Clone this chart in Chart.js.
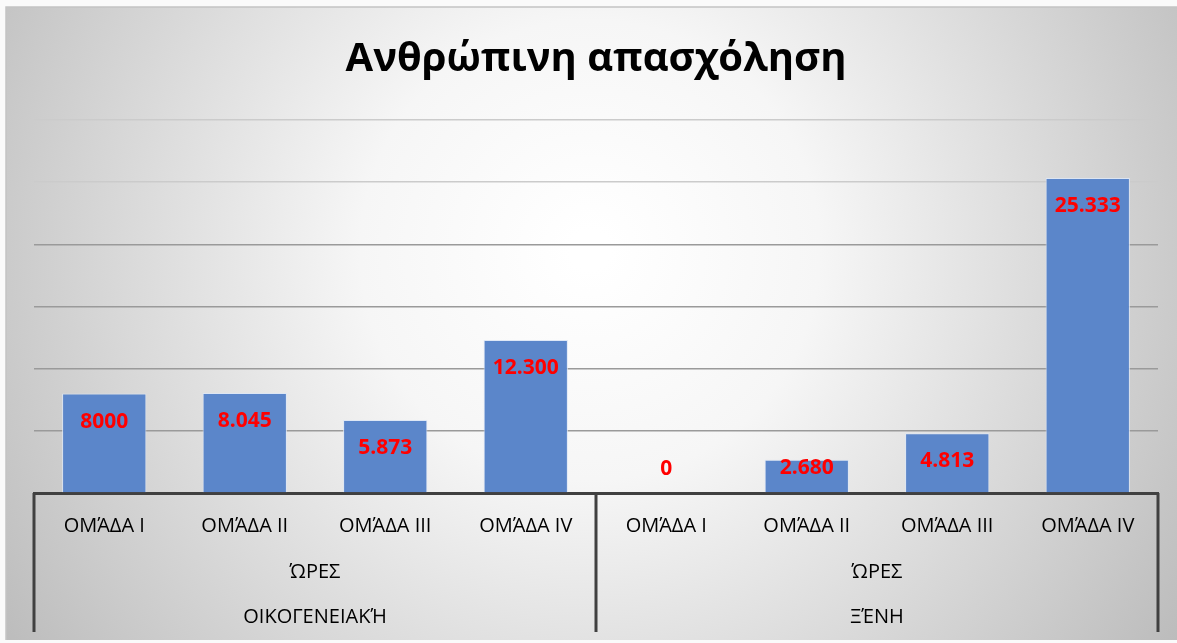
<!DOCTYPE html>
<html>
<head>
<meta charset="utf-8">
<script src="https://cdn.jsdelivr.net/npm/chart.js@4.4.1/dist/chart.umd.min.js"></script>
<style>
  html, body { margin: 0; padding: 0; background: #fff; }
  #wrap { width: 1177px; height: 643px; }
</style>
</head>
<body>
<div id="wrap"><canvas id="chart" width="1177" height="643"></canvas></div>
<script>
// dedomena
const categories = ['ΟΜΆΔΑ I', 'ΟΜΆΔΑ II', 'ΟΜΆΔΑ III', 'ΟΜΆΔΑ IV', 'ΟΜΆΔΑ I', 'ΟΜΆΔΑ II', 'ΟΜΆΔΑ III', 'ΟΜΆΔΑ IV'];
const hours = [8000, 8045, 5873, 12300, 0, 2680, 4813, 25333];
const valueLabels = ['8000', '8.045', '5.873', '12.300', '0', '2.680', '4.813', '25.333'];
const unitGroups = ['ΏΡΕΣ', 'ΏΡΕΣ'];
const laborGroups = ['ΟΙΚΟΓΕΝΕΙΑΚΉ', 'ΞΈΝΗ'];
const groupSize = 4;

const FONT = '"Open Sans", sans-serif';

// fonto me gradient kai plaisio
const backgroundPlugin = {
    id: 'bg',
    beforeDraw(chart) {
        const ctx = chart.ctx;
        const w = chart.width, h = chart.height;
        ctx.save();
        ctx.fillStyle = '#fafafa';
        ctx.fillRect(0, 0, w, h);
        const g = ctx.createRadialGradient(590, 250, 20, 590, 250, 720);
        g.addColorStop(0, '#ffffff');
        g.addColorStop(0.3, '#f6f6f6');
        g.addColorStop(1, '#bababa');
        ctx.fillStyle = g;
        ctx.fillRect(6, 7, w - 6, h - 10);
        ctx.strokeStyle = '#c4c4c4';
        ctx.lineWidth = 1.5;
        ctx.beginPath();
        ctx.moveTo(6, h - 3);
        ctx.lineTo(6, 7);
        ctx.lineTo(w, 7);
        ctx.stroke();
        ctx.restore();
    }
};

// omades katigorion kato apo ton axona
const groupAxisPlugin = {
    id: 'groupAxis',
    afterDraw(chart) {
        const ctx = chart.ctx;
        const x = chart.scales.x;
        const top = x.top;
        const bottom = 632;
        const bounds = [x.left];
        for (let i = groupSize; i < categories.length; i += groupSize) {
            bounds.push((x.getPixelForValue(i - 1) + x.getPixelForValue(i)) / 2);
        }
        bounds.push(x.right);

        ctx.save();
        ctx.strokeStyle = '#404040';
        ctx.lineWidth = 3;
        bounds.forEach(b => {
            ctx.beginPath();
            ctx.moveTo(b, top);
            ctx.lineTo(b, bottom);
            ctx.stroke();
        });

        ctx.fillStyle = '#000';
        ctx.font = '20px ' + FONT;
        ctx.textAlign = 'center';
        ctx.textBaseline = 'middle';
        for (let gi = 0; gi < bounds.length - 1; gi++) {
            const cx = (bounds[gi] + bounds[gi + 1]) / 2;
            ctx.fillText(unitGroups[gi], cx, 572);
            ctx.fillText(laborGroups[gi], cx, 617);
        }
        ctx.restore();
    }
};

// etiketes timon mesa stis bares
const valueLabelPlugin = {
    id: 'valueLabels',
    afterDatasetsDraw(chart) {
        const ctx = chart.ctx;
        const meta = chart.getDatasetMeta(0);
        ctx.save();
        ctx.fillStyle = '#ff0000';
        ctx.font = 'bold 21px ' + FONT;
        ctx.textAlign = 'center';
        ctx.textBaseline = 'middle';
        meta.data.forEach((bar, i) => {
            const y = Math.min(bar.y + 28, bar.base - 24);
            ctx.fillText(valueLabels[i], bar.x, y);
        });
        ctx.restore();
    }
};

new Chart(document.getElementById('chart'), {
    type: 'bar',
    data: {
        labels: categories,
        datasets: [{
            data: hours,
            backgroundColor: '#5b86ca',
            borderColor: 'rgba(220,230,245,0.9)',
            borderWidth: 1,
            categoryPercentage: 1,
            barPercentage: 0.6,
        }],
    },
    options: {
        responsive: false,
        animation: false,
        layout: {
            padding: { left: 34, right: 19, top: 26, bottom: 11 },
        },
        plugins: {
            legend: { display: false },
            tooltip: { enabled: false },
            title: {
                display: true,
                text: 'Ανθρώπινη απασχόληση',
                color: '#000',
                font: { family: FONT, size: 40, weight: 'bold' },
                padding: { top: 10, bottom: 36 },
            },
        },
        scales: {
            x: {
                grid: { display: false },
                border: { display: true, color: '#404040', width: 3 },
                ticks: {
                    color: '#000',
                    font: { family: FONT, size: 20 },
                    padding: 13,
                    maxRotation: 0,
                    autoSkip: false,
                },
                afterFit(scale) { scale.height = 139; },
            },
            y: {
                min: 0,
                max: 30000,
                ticks: { display: false, stepSize: 5000 },
                border: { display: false },
                grid: {
                    drawTicks: false,
                    lineWidth: 1.5,
                    color: ctx => (ctx.tick && ctx.tick.value >= 25000) ? '#cbcbcb' : '#9a9a9a',
                },
                afterFit(scale) { scale.width = 0; },
            },
        },
    },
    plugins: [backgroundPlugin, groupAxisPlugin, valueLabelPlugin],
});
</script>
</body>
</html>
